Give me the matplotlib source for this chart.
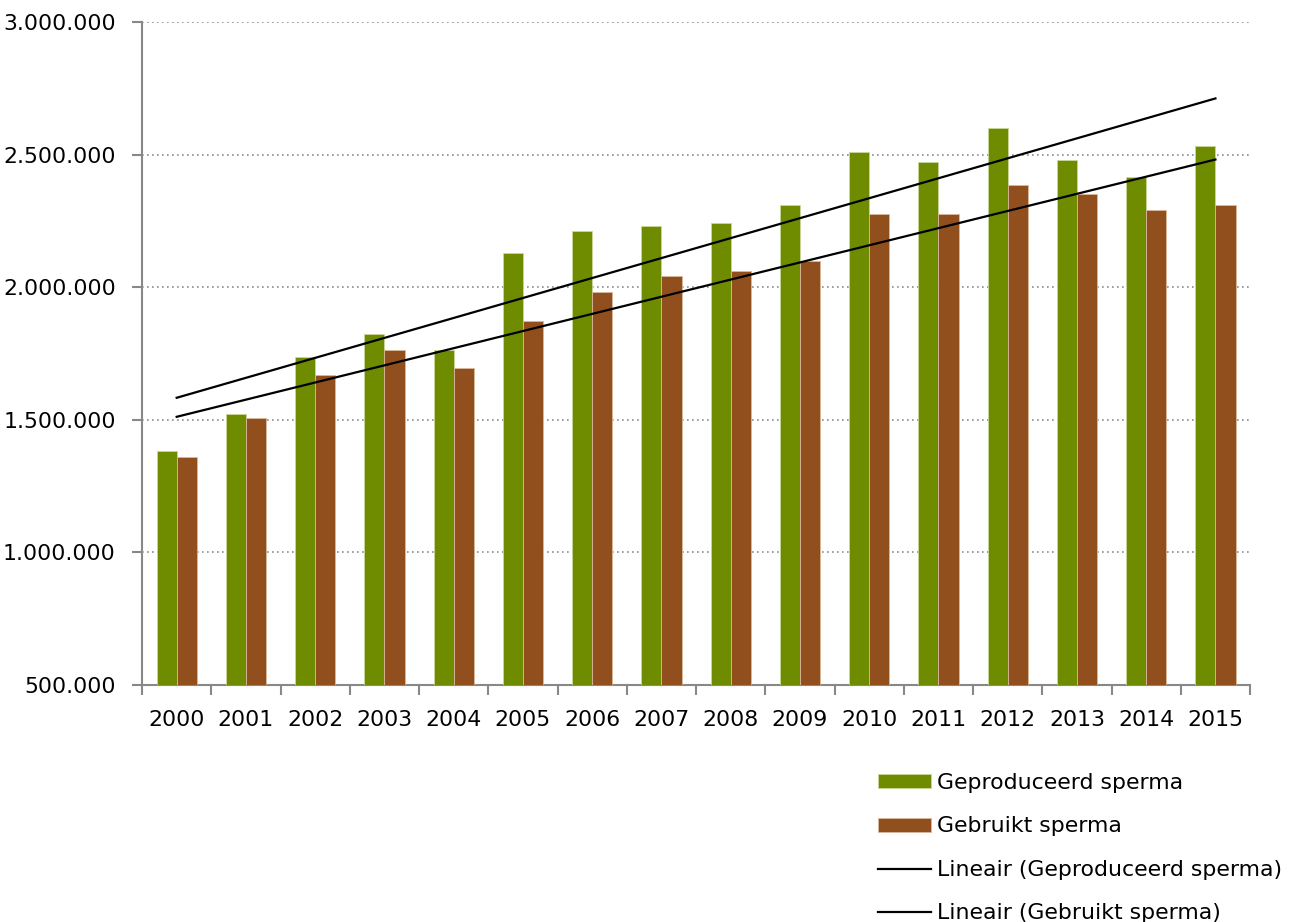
import matplotlib.pyplot as plt
import numpy as np
from matplotlib.ticker import FuncFormatter, FixedLocator

# jaartallen en hoeveelheden sperma (dosissen)
jaren = [str(j) for j in range(2000, 2016)]
geproduceerd = [1382000, 1523000, 1737000, 1822000, 1763000, 2129000, 2211000, 2232000,
                2242000, 2311000, 2510000, 2472000, 2599000, 2480000, 2414000, 2532000]
gebruikt = [1361000, 1508000, 1669000, 1762000, 1694000, 1874000, 1983000, 2043000,
            2060000, 2099000, 2275000, 2275000, 2385000, 2353000, 2290000, 2311000]

groen = '#6f8c00'
bruin = '#904f1d'

plt.rcParams['font.family'] = 'DejaVu Sans'
plt.rcParams['font.size'] = 15.8

fig = plt.figure(figsize=(12.95, 9.22), dpi=100)
ax = fig.add_axes([0.1097, 0.2571, 0.8556, 0.7190])

x = np.arange(len(jaren))
bw = 0.29

b1 = ax.bar(x - bw / 2, geproduceerd, bw, color=groen, edgecolor='#c9d69a', linewidth=0.6,
            label='Geproduceerd sperma', zorder=3)
b2 = ax.bar(x + bw / 2, gebruikt, bw, color=bruin, edgecolor='#d9b89c', linewidth=0.6,
            label='Gebruikt sperma', zorder=3)

# lineaire trendlijnen (kleinste kwadraten)
lijnen = []
for reeks, lbl in [(geproduceerd, 'Lineair (Geproduceerd sperma)'),
                   (gebruikt, 'Lineair (Gebruikt sperma)')]:
    a, b = np.polyfit(x, reeks, 1)
    l, = ax.plot(x, a * x + b, color='black', linewidth=1.6, label=lbl, zorder=4)
    lijnen.append(l)

ax.set_xlim(-0.5, len(jaren) - 0.5)
ax.set_ylim(500000, 3000000)
ax.set_yticks(np.arange(500000, 3000001, 500000))
ax.yaxis.set_major_formatter(FuncFormatter(lambda v, p: f'{int(v):,}'.replace(',', '.')))
ax.yaxis.grid(True, linestyle=(0, (1, 2)), color='#8c8c8c', linewidth=1.2, zorder=0)

ax.set_xticks(x)
ax.set_xticklabels(jaren)
ax.xaxis.set_minor_locator(FixedLocator(np.arange(-0.5, len(jaren), 1)))
ax.tick_params(axis='x', which='major', length=0, pad=18)
ax.tick_params(axis='x', which='minor', length=7, direction='out', color='#888888', width=1.5)
ax.tick_params(axis='y', length=7, direction='out', color='#888888', width=1.5, pad=12)

for s in ['top', 'right']:
    ax.spines[s].set_visible(False)
for s in ['left', 'bottom']:
    ax.spines[s].set_color('#888888')
    ax.spines[s].set_linewidth(1.5)

fig.legend(handles=[b1, b2] + lijnen, loc='upper left',
           bbox_to_anchor=(878 / 1295, 1 - 773 / 922), frameon=False,
           handlelength=2.4, handleheight=0.6, handletextpad=0.3, labelspacing=1.07,
           borderpad=0, borderaxespad=0)

fig.savefig('out.png', dpi=100)
